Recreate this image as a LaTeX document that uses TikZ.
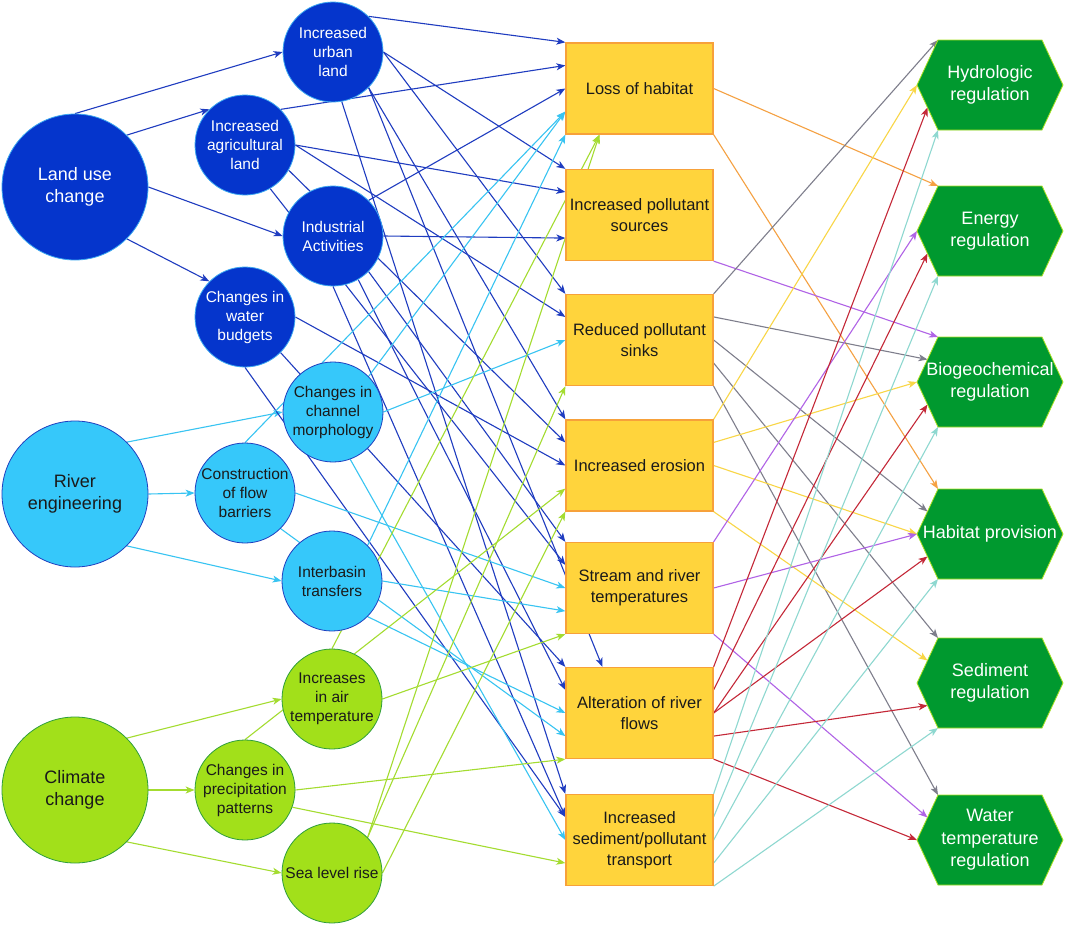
\documentclass[tikz,border=0pt]{standalone}
\usepackage{fontspec}
\setmainfont{Liberation Sans}
\usetikzlibrary{arrows.meta,calc,backgrounds}
\definecolor{cLU}{HTML}{0535CC}
\definecolor{cLUb}{HTML}{3AA8F0}
\definecolor{cRE}{HTML}{36C8FA}
\definecolor{cREb}{HTML}{1F3FBF}
\definecolor{cCC}{HTML}{A2E01A}
\definecolor{cCCb}{HTML}{2E9E3A}
\definecolor{cBox}{HTML}{FFD43C}
\definecolor{cBoxb}{HTML}{F7A13A}
\definecolor{cHex}{HTML}{00992F}
\definecolor{cHexb}{HTML}{A8E020}
\definecolor{cTxt}{HTML}{1A1A1A}
\definecolor{eDB}{HTML}{1F3CC0}
\definecolor{eLB}{HTML}{38C4F2}
\definecolor{eGR}{HTML}{A4DC30}
\definecolor{eOR}{HTML}{F5A142}
\definecolor{ePU}{HTML}{B063E6}
\definecolor{eGY}{HTML}{7E7E8C}
\definecolor{eYE}{HTML}{F9D646}
\definecolor{eRD}{HTML}{C42838}
\definecolor{eTE}{HTML}{8ED8D0}
\newcommand\hexa[3]{%
  \filldraw[hexshape] (917,#2) -- (938,#2-45) -- (1042,#2-45) -- (1063,#2) -- (1042,#2+45) -- (938,#2+45) -- cycle;
  \node[hextext] (#1) at (990,#2) {#3};
  \coordinate (#1-tl) at (938,#2-45);
  \coordinate (#1-ul) at (927.5,#2-22.5);
  \coordinate (#1-l) at (917,#2);
  \coordinate (#1-ll) at (927.5,#2+22.5);
  \coordinate (#1-bl) at (938,#2+45);
}
\begin{document}
\begin{tikzpicture}[x=1pt,y=-1pt,
  bigc/.style={circle, minimum size=146pt, inner sep=0pt, align=center, font=\fontsize{18}{22}\selectfont},
  smallc/.style={circle, minimum size=100pt, inner sep=0pt, align=center, font=\fontsize{15.5}{19}\selectfont},
  lu/.style={fill=cLU, draw=cLUb, line width=0.8pt, text=white},
  re/.style={fill=cRE, draw=cREb, line width=0.8pt, text=cTxt},
  cc/.style={fill=cCC, draw=cCCb, line width=0.8pt, text=cTxt},
  boxn/.style={rectangle, minimum width=147pt, minimum height=91pt, inner sep=0pt, fill=cBox, draw=cBoxb, line width=1.3pt, align=center, text=cTxt, font=\fontsize{16.5}{21}\selectfont},
  hexshape/.style={fill=cHex, draw=cHexb, line width=0.8pt},
  hextext/.style={rectangle, minimum width=146pt, minimum height=90pt, inner sep=0pt, align=center, text=white, font=\fontsize{18}{22.5}\selectfont},
  conn/.style={line width=1.1pt, -{Stealth[length=9pt,width=7pt,inset=2.5pt]}},
  cdb/.style={conn, draw=eDB},
  clb/.style={conn, draw=eLB},
  cgr/.style={conn, draw=eGR},
  cor/.style={conn, draw=eOR},
  cpu/.style={conn, draw=ePU},
  cgy/.style={conn, draw=eGY},
  cye/.style={conn, draw=eYE},
  crd/.style={conn, draw=eRD},
  cte/.style={conn, draw=eTE}
]
\useasboundingbox (0,0) rectangle (1065,926);

% first column
\node[bigc,lu] (LUC) at (75,187) {Land use\\change};
\node[bigc,re] (RE) at (75,494) {River\\engineering};
\node[bigc,cc] (CC) at (75,790) {Climate\\change};

% second column
\node[smallc,lu] (U) at (333,52) {Increased\\urban\\land};
\node[smallc,lu] (A) at (245,145) {Increased\\agricultural\\land};
\node[smallc,lu] (I) at (333,236) {Industrial\\Activities};
\node[smallc,lu] (W) at (245,317) {Changes in\\water\\budgets};
\node[smallc,re] (M) at (333,412) {Changes in\\channel\\morphology};
\node[smallc,re] (B) at (245,493) {Construction\\of flow\\barriers};
\node[smallc,re] (T) at (332,581) {Interbasin\\transfers};
\node[smallc,cc] (AT) at (332,699) {Increases\\in air\\temperature};
\node[smallc,cc] (P) at (245,790) {Changes in\\precipitation\\patterns};
\node[smallc,cc] (S) at (332,873) {Sea level rise};

% boxes
\node[boxn] (L) at (639.5,88.5) {Loss of habitat};
\node[boxn] (Src) at (639.5,215) {Increased pollutant\\sources};
\node[boxn] (Snk) at (639.5,340) {Reduced pollutant\\sinks};
\node[boxn] (Ero) at (639.5,465.5) {Increased erosion};
\node[boxn] (Str) at (639.5,588) {Stream and river\\temperatures};
\node[boxn] (Alt) at (639.5,713) {Alteration of river\\flows};
\node[boxn] (Sed) at (639.5,840) {Increased\\sediment/pollutant\\transport};

\foreach \n in {L,Src,Snk,Ero,Str,Alt,Sed}{
  \foreach \f/\k in {0/0,0.25/1,0.5/2,0.75/3,1/4}{
    \coordinate (\n-l\k) at ($(\n.north west)!\f!(\n.south west)$);
    \coordinate (\n-r\k) at ($(\n.north east)!\f!(\n.south east)$);
  }
}
\coordinate (Alt-t1) at ($(Alt.north west)!0.25!(Alt.north east)$);
\coordinate (L-b1) at ($(L.south west)!0.23!(L.south east)$);

% hexagons
\hexa{Hyd}{85}{Hydrologic\\regulation}
\hexa{Eng}{231}{Energy\\regulation}
\hexa{Bio}{382}{Biogeochemical\\regulation}
\hexa{Hab}{534}{Habitat provision}
\hexa{SedR}{683}{Sediment\\regulation}
\hexa{Wat}{840}{Water\\temperature\\regulation}

\begin{pgfonlayer}{background}
\fill[white] (0,0) rectangle (1065,926);
% first to second column
\draw[cdb] (LUC.90) -- (U.180);
\draw[cdb] (LUC.45) -- (A.135);
\draw[cdb] (LUC.0) -- (I.180);
\draw[cdb] (LUC.-45) -- (W.135);
\draw[clb] (RE.45) -- (M.180);
\draw[clb] (RE.0) -- (B.180);
\draw[clb] (RE.-45) -- (T.180);
\draw[cgr] (CC.45) -- (AT.180);
\draw[cgr] (CC.0) -- (P.180);
\draw[cgr] (CC.-45) -- (S.180);

% land use drivers
\draw[cdb] (U.45) -- (L-l0);
\draw[cdb] (A.45) -- (L-l1);
\draw[cdb] (I.45) -- (L-l2);
\draw[cdb] (U.0) -- (Src-l0);
\draw[cdb] (A.0) -- (Src-l1);
\draw[cdb] (I.0) -- (Src-l3);
\draw[cdb] (U.0) -- (Snk-l0);
\draw[cdb] (A.0) -- (Snk-l1);
\draw[cdb] (U.-45) -- (Ero-l0);
\draw[cdb] (A.-30) -- (Ero-l1);
\draw[cdb] (W.0) -- (Ero-l2);
\draw[cdb] (I.-45) -- (Str-l0);
\draw[cdb] (A.-60) -- (Str-l1);
\draw[cdb] (U.-45) -- (Alt-t1);
\draw[cdb] (W.-45) -- (Alt-l0);
\draw[cdb] (I.-60) -- (Alt-l1);
\draw[cdb] (U.-80) -- (Sed-l0);
\draw[cdb] (I.-90) -- (Sed-l1);
\draw[cdb] (W.-90) -- (Sed-l1);

% river engineering drivers
\draw[clb] (M.45) -- (L-l3);
\draw[clb] (B.90) -- (L-l3);
\draw[clb] (T.45) -- (L-l4);
\draw[clb] (M.0) -- (Snk-l2);
\draw[clb] (B.0) -- (Str-l2);
\draw[clb] (T.0) -- (Str-l3);
\draw[clb] (T.-45) -- (Alt-l2);
\draw[clb] (B.-45) -- (Alt-l3);
\draw[clb] (M.-70) -- (Sed-l2);

% climate drivers
\draw[cgr] (AT.90) -- (L-b1);
\draw[cgr] (S.45) -- (L-b1);
\draw[cgr] (S.45) -- (Snk-l4);
\draw[cgr] (P.90) -- (Ero-l3);
\draw[cgr] (S.0) -- (Ero-l4);
\draw[cgr] (AT.0) -- (Str-l4);
\draw[cgr] (P.0) -- (Alt-l4);
\draw[cgr] (P.-20) -- (Sed-l3);

% impacts to services
\draw[cor] (L-r2) -- (Eng-tl);
\draw[cor] (L-r4) -- (Hab-tl);
\draw[cpu] (Src-r4) -- (Bio-tl);
\draw[cgy] (Snk-r0) -- (Hyd-tl);
\draw[cgy] (Snk-r1) -- (Bio-ul);
\draw[cgy] (Snk-r2) -- (Hab-ul);
\draw[cgy] (Snk-r3) -- (SedR-tl);
\draw[cgy] (Snk-r4) -- (Wat-tl);
\draw[cye] (Ero-r0) -- (Hyd-l);
\draw[cye] (Ero-r1) -- (Bio-l);
\draw[cye] (Ero-r2) -- (Hab-l);
\draw[cye] (Ero-r4) -- (SedR-ul);
\draw[cpu] (Str-r0) -- (Eng-l);
\draw[cpu] (Str-r2) -- (Hab-l);
\draw[cpu] (Str-r4) -- (Wat-ul);
\draw[crd] (Alt-r0) -- (Hyd-ll);
\draw[crd] (Alt-r1) -- (Eng-ll);
\draw[crd] (Alt-r2) -- (Bio-ll);
\draw[crd] (Alt-r2) -- (Hab-ll);
\draw[crd] (Alt-r3) -- (SedR-ll);
\draw[crd] (Alt-r4) -- (Wat-l);
\draw[cte] (Sed-r0) -- (Hyd-bl);
\draw[cte] (Sed-r1) -- (Eng-bl);
\draw[cte] (Sed-r2) -- (Bio-bl);
\draw[cte] (Sed-r3) -- (Hab-bl);
\draw[cte] (Sed-r4) -- (SedR-bl);
\end{pgfonlayer}
\end{tikzpicture}
\end{document}
